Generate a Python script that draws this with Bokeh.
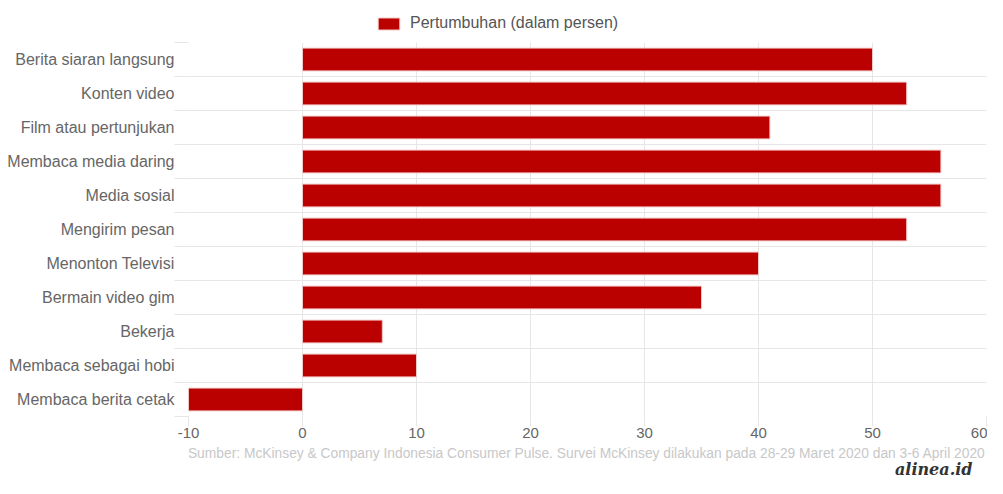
from bokeh.plotting import figure
from bokeh.layouts import column
from bokeh.models import (ColumnDataSource, Range1d, FixedTicker, Legend, LegendItem, Label)
from bokeh.embed import file_html
from bokeh.resources import INLINE

categories = ["Berita siaran langsung", "Konten video", "Film atau pertunjukan",
              "Membaca media daring", "Media sosial", "Mengirim pesan",
              "Menonton Televisi", "Bermain video gim", "Bekerja",
              "Membaca sebagai hobi", "Membaca berita cetak"]
growth = [50, 53, 41, 56, 56, 53, 40, 35, 7, 10, -10]
x_ticks = [-10, 0, 10, 20, 30, 40, 50, 60]
x_tick_labels = ["-10", "0", "10", "20", "30", "40", "50", "60"]
series_name = "Pertumbuhan (dalam persen)"
source_text = ("Sumber: McKinsey & Company Indonesia Consumer Pulse. Survei McKinsey "
               "dilakukan pada 28-29 Maret 2020 dan 3-6 April 2020")
brand = "alinea.id"

n = len(categories)
pos = [n - i - 0.5 for i in range(n)]
src = ColumnDataSource(dict(y=pos, right=growth, left=[0] * n, cat=categories))

FONT = "Liberation Sans"
GRID = "#e6e6e6"
BAR = "#bb0000"
BAR_EDGE = "#f3c6c6"
W = 987


def bare(height):
    f = figure(width=W, height=height, output_backend="svg", toolbar_location=None,
               x_range=Range1d(1000, 1001), y_range=Range1d(1000, 1001),
               x_axis_location=None, y_axis_location=None,
               min_border=0, min_border_left=188, min_border_right=1,
               min_border_top=0, min_border_bottom=0)
    f.outline_line_color = None
    f.grid.visible = False
    return f


# header with legend (the legend's bars lie outside this strip's ranges)
header = bare(42)
legend_r = header.hbar(y="y", left="left", right="right", height=0.67, source=src,
                       fill_color=BAR, line_color=BAR_EDGE, line_width=1)
legend = Legend(items=[LegendItem(label=series_name, renderers=[legend_r], index=0)],
                location=(187, 10), orientation="horizontal",
                glyph_width=27, glyph_height=15, label_height=15,
                label_standoff=8, padding=0, margin=0, spacing=0,
                border_line_color=None, background_fill_alpha=0,
                label_text_font=FONT, label_text_font_size="16px",
                label_text_color="#555555")
header.add_layout(legend, "center")

# main chart
p = figure(width=W, height=400, output_backend="svg", toolbar_location=None,
           x_range=Range1d(-10, 60), y_range=Range1d(0, n),
           min_border_left=188, min_border_right=1, min_border_top=0,
           min_border_bottom=26)
p.outline_line_color = None

p.hbar(y="y", left="left", right="right", height=0.67, source=src,
       fill_color=BAR, line_color=BAR_EDGE, line_width=1)

p.xaxis.ticker = FixedTicker(ticks=x_ticks)
p.xaxis.major_label_overrides = {t: s for t, s in zip(x_ticks, x_tick_labels)}
p.xaxis.axis_line_color = None
p.xaxis.major_tick_out = 10
p.xaxis.major_tick_in = 0
p.xaxis.major_tick_line_color = GRID
p.xaxis.minor_tick_line_color = None
p.xaxis.major_label_standoff = 1
p.xaxis.major_label_text_font = FONT
p.xaxis.major_label_text_font_size = "15px"
p.xaxis.major_label_text_color = "#666666"

p.yaxis.ticker = FixedTicker(ticks=pos, minor_ticks=list(range(n + 1)))
p.yaxis.major_label_overrides = {pv: c for pv, c in zip(pos, categories)}
p.yaxis.axis_line_color = None
p.yaxis.major_tick_line_color = None
p.yaxis.major_tick_out = 0
p.yaxis.major_tick_in = 0
p.yaxis.minor_tick_out = 14
p.yaxis.minor_tick_in = 0
p.yaxis.minor_tick_line_color = GRID
p.yaxis.major_label_standoff = 0
p.yaxis.major_label_text_font = FONT
p.yaxis.major_label_text_font_size = "16px"
p.yaxis.major_label_text_color = "#666666"

p.xgrid.ticker = FixedTicker(ticks=x_ticks)
p.xgrid.grid_line_color = GRID
p.ygrid.ticker = FixedTicker(ticks=list(range(n + 1)))
p.ygrid.grid_line_color = GRID

# footer with source and brand
footer = bare(36)
footer.add_layout(Label(x=797, y=25, x_units="screen", y_units="screen",
                        text=source_text, text_align="right", text_baseline="middle",
                        text_font=FONT, text_font_size="13.8px", text_color="#c8c8c8"))
footer.add_layout(Label(x=784, y=9, x_units="screen", y_units="screen",
                        text=brand, text_align="right", text_baseline="middle",
                        text_font="DejaVu Serif", text_font_style="bold italic",
                        text_font_size="16px", text_color="#333333"))

layout = column(header, p, footer, spacing=0)
open("out.html", "w").write(file_html(layout, INLINE))
